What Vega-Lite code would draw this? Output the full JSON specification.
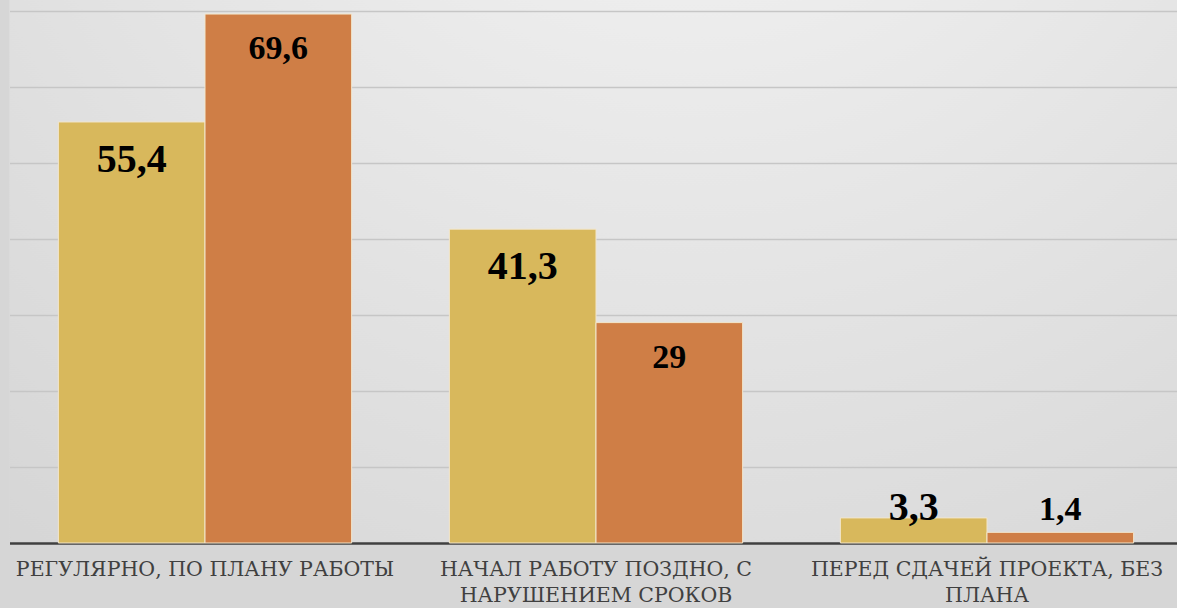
{
  "$schema": "https://vega.github.io/schema/vega-lite/v6.json",
  "width": 1173,
  "height": 543,
  "autosize": {"type": "none"},
  "padding": {"left": 9.5, "top": 0, "right": 0, "bottom": 65},
  "background": "#D6D6D6",
  "config": {
    "view": {
      "stroke": null,
      "fill": {
        "gradient": "radial",
        "x1": 0.58, "y1": 0.0, "r1": 0,
        "x2": 0.58, "y2": 0.0, "r2": 1.0,
        "stops": [
          {"offset": 0, "color": "#F6F6F6"},
          {"offset": 1, "color": "#D3D3D3"}
        ]
      }
    },
    "locale": {"number": {"decimal": ",", "thousands": " ", "grouping": [3], "currency": ["", ""]}}
  },
  "data": {
    "values": [
      {"category": "РЕГУЛЯРНО, ПО ПЛАНУ РАБОТЫ", "series": "Ряд 1", "value": 55.4},
      {"category": "РЕГУЛЯРНО, ПО ПЛАНУ РАБОТЫ", "series": "Ряд 2", "value": 69.6},
      {"category": "НАЧАЛ РАБОТУ ПОЗДНО, С НАРУШЕНИЕМ СРОКОВ", "series": "Ряд 1", "value": 41.3},
      {"category": "НАЧАЛ РАБОТУ ПОЗДНО, С НАРУШЕНИЕМ СРОКОВ", "series": "Ряд 2", "value": 29},
      {"category": "ПЕРЕД СДАЧЕЙ ПРОЕКТА, БЕЗ ПЛАНА", "series": "Ряд 1", "value": 3.3},
      {"category": "ПЕРЕД СДАЧЕЙ ПРОЕКТА, БЕЗ ПЛАНА", "series": "Ряд 2", "value": 1.4}
    ]
  },
  "encoding": {
    "x": {
      "field": "category",
      "type": "nominal",
      "sort": null,
      "scale": {"paddingInner": 0.25, "paddingOuter": 0.125},
      "axis": {
        "title": null,
        "labelAngle": 0,
        "labelFont": "DejaVu Serif",
        "labelFontSize": 20.5,
        "labelColor": "#404040",
        "labelPadding": 16,
        "labelLimit": 600,
        "labelLineHeight": 26,
        "labelBaseline": "top",
        "ticks": false,
        "domainColor": "#404040",
        "domainWidth": 2.5,
        "labelExpr": "datum.label == 'НАЧАЛ РАБОТУ ПОЗДНО, С НАРУШЕНИЕМ СРОКОВ' ? ['НАЧАЛ РАБОТУ ПОЗДНО, С', 'НАРУШЕНИЕМ СРОКОВ'] : datum.label == 'ПЕРЕД СДАЧЕЙ ПРОЕКТА, БЕЗ ПЛАНА' ? ['ПЕРЕД СДАЧЕЙ ПРОЕКТА, БЕЗ', 'ПЛАНА'] : datum.label"
      }
    },
    "xOffset": {"field": "series", "type": "nominal", "scale": {"paddingInner": 0}},
    "y": {
      "field": "value",
      "type": "quantitative",
      "scale": {"domain": [0, 71.45], "nice": false},
      "axis": {
        "title": null,
        "labels": false,
        "ticks": false,
        "domain": false,
        "values": [10, 20, 30, 40, 50, 60, 70],
        "gridColor": "#C6C6C6",
        "gridWidth": 1.5
      }
    }
  },
  "layer": [
    {
      "mark": {"type": "bar", "stroke": "#F2E6CC", "strokeWidth": 1},
      "encoding": {
        "color": {
          "field": "series",
          "type": "nominal",
          "scale": {"range": ["#D8B85C", "#CF7E46"]},
          "legend": null
        }
      }
    },
    {
      "transform": [{"filter": "datum.value > 10"}],
      "mark": {"type": "text", "font": "Liberation Serif", "fontWeight": "bold", "color": "#000000", "baseline": "top", "dy": 18},
      "encoding": {
        "text": {"field": "value", "type": "quantitative", "format": ".1~f"},
        "size": {"field": "series", "type": "nominal", "scale": {"range": [40, 34]}, "legend": null}
      }
    },
    {
      "transform": [{"filter": "datum.value <= 10"}],
      "mark": {"type": "text", "font": "Liberation Serif", "fontWeight": "bold", "color": "#000000", "baseline": "alphabetic", "dy": 0},
      "encoding": {
        "y": {"datum": 3},
        "text": {"field": "value", "type": "quantitative", "format": ".1~f"},
        "size": {"field": "series", "type": "nominal", "scale": {"range": [40, 34]}, "legend": null}
      }
    }
  ]
}
